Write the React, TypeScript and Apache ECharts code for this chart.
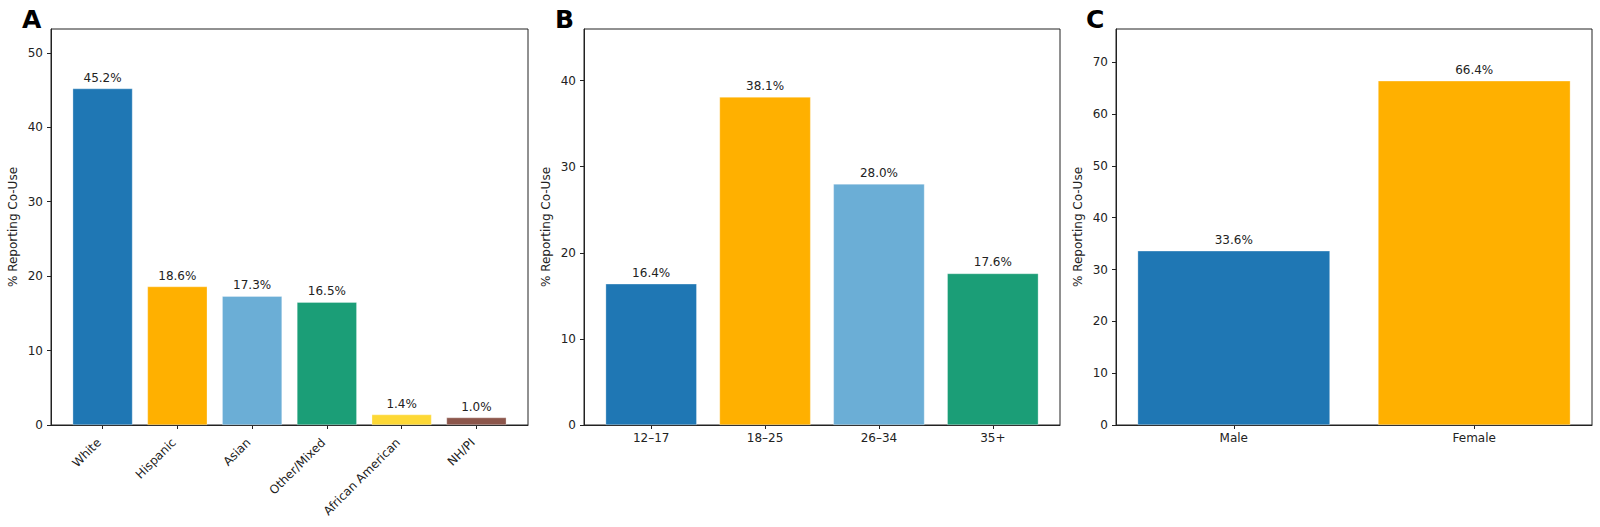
import React, { useEffect, useRef } from "react";
import * as echarts from "echarts";

const raceCategories = ["White", "Hispanic", "Asian", "Other/Mixed", "African American", "NH/PI"];
const raceValues = [45.2, 18.6, 17.3, 16.5, 1.4, 1.0];
const raceColors = ["#1f77b4", "#ffb000", "#6baed6", "#1b9e77", "#fdd835", "#8c564b"];

const ageCategories = ["12–17", "18–25", "26–34", "35+"];
const ageValues = [16.4, 38.1, 28.0, 17.6];
const ageColors = ["#1f77b4", "#ffb000", "#6baed6", "#1b9e77"];

const sexCategories = ["Male", "Female"];
const sexValues = [33.6, 66.4];
const sexColors = ["#1f77b4", "#ffb000"];

const yTicksA = [0, 10, 20, 30, 40, 50];
const yTicksB = [0, 10, 20, 30, 40];
const yTicksC = [0, 10, 20, 30, 40, 50, 60, 70];

const panelLetters = ["A", "B", "C"];
const yAxisTitle = "% Reporting Co-Use";

const W = 1600;
const H = 527;
const TOP = 29;
const BOTTOM_Y = 425;
const FONT = "DejaVu Sans";

type Panel = {
  left: number;
  right: number;
  cats: string[];
  vals: number[];
  colors: string[];
  yMax: number;
  yTicks: number[];
  rotate: number;
};

const panels: Panel[] = [
  { left: 51, right: 528, cats: raceCategories, vals: raceValues, colors: raceColors, yMax: 53.2, yTicks: yTicksA, rotate: 45 },
  { left: 584, right: 1060, cats: ageCategories, vals: ageValues, colors: ageColors, yMax: 46.0, yTicks: yTicksB, rotate: 0 },
  { left: 1116, right: 1592, cats: sexCategories, vals: sexValues, colors: sexColors, yMax: 76.4, yTicks: yTicksC, rotate: 0 },
];

export default function App() {
  const ref = useRef<HTMLDivElement>(null);
  useEffect(() => {
    document.body.style.margin = "0";
    if (!ref.current) return;
    const chart = echarts.init(ref.current, null, { renderer: "svg" });

    const grids: any[] = [];
    const xAxes: any[] = [];
    const yAxes: any[] = [];
    const series: any[] = [];
    const graphics: any[] = [];

    panels.forEach((p, i) => {
      const n = p.cats.length;
      const margin = 0.05 * (n - 1 + 0.8);
      const xMin = -0.4 - margin;
      const xMax = n - 1 + 0.4 + margin;
      const plotW = p.right - p.left;
      const unit = plotW / (xMax - xMin);
      const idx = p.cats.map((_, k) => k);

      grids.push({
        left: p.left,
        width: plotW,
        top: TOP,
        height: BOTTOM_Y - TOP,
        show: true,
        borderColor: "#222",
        borderWidth: 1,
        backgroundColor: "transparent",
        containLabel: false,
        outerBoundsMode: "none",
      });
      xAxes.push({
        type: "value",
        gridIndex: i,
        min: xMin,
        max: xMax,
        splitLine: { show: false },
        axisLine: { show: true, onZero: false, lineStyle: { color: "#222", width: 1 } },
        axisTick: { show: true, length: 4, customValues: idx, lineStyle: { color: "#222" } },
        axisLabel: {
          show: true,
          customValues: idx,
          margin: p.rotate ? 12 : 7,
          rotate: p.rotate,
          padding: p.rotate ? [0, 5, 0, 0] : 0,
          fontFamily: FONT,
          fontSize: 12,
          color: "#222",
          formatter: (v: number) => p.cats[Math.round(v)] ?? "",
        },
      });
      yAxes.push({
        type: "value",
        gridIndex: i,
        min: 0,
        max: p.yMax,
        splitLine: { show: false },
        axisLine: { show: true, onZero: false, lineStyle: { color: "#222", width: 1 } },
        axisTick: { show: true, length: 4, customValues: p.yTicks, lineStyle: { color: "#222" } },
        axisLabel: {
          show: true,
          customValues: p.yTicks,
          margin: 8,
          fontFamily: FONT,
          fontSize: 12,
          color: "#222",
        },
        name: yAxisTitle,
        nameLocation: "middle",
        nameGap: 32,
        nameTextStyle: { fontFamily: FONT, fontSize: 12, color: "#222" },
      });
      series.push({
        type: "bar",
        xAxisIndex: i,
        yAxisIndex: i,
        barWidth: 0.8 * unit,
        data: p.vals.map((v, k) => ({
          value: [k, v],
          itemStyle: { color: p.colors[k], borderColor: "rgba(255,255,255,0.6)", borderWidth: 0.5 },
        })),
        label: {
          show: true,
          position: "top",
          distance: 5,
          fontFamily: FONT,
          fontSize: 12,
          color: "#222",
          formatter: (prm: any) => `${Number(prm.value[1]).toFixed(1)}%`,
        },
      });
      graphics.push({
        type: "text",
        left: [22, 555, 1086][i],
        top: 7,
        style: {
          text: panelLetters[i],
          fontFamily: FONT,
          fontWeight: "bold",
          fontSize: 25,
          fill: "#000",
        },
      });
    });

    chart.setOption({
      animation: false,
      backgroundColor: "#fff",
      grid: grids,
      xAxis: xAxes,
      yAxis: yAxes,
      series,
      graphic: graphics,
    });
    return () => chart.dispose();
  }, []);
  return <div ref={ref} style={{ width: W, height: H }} />;
}
